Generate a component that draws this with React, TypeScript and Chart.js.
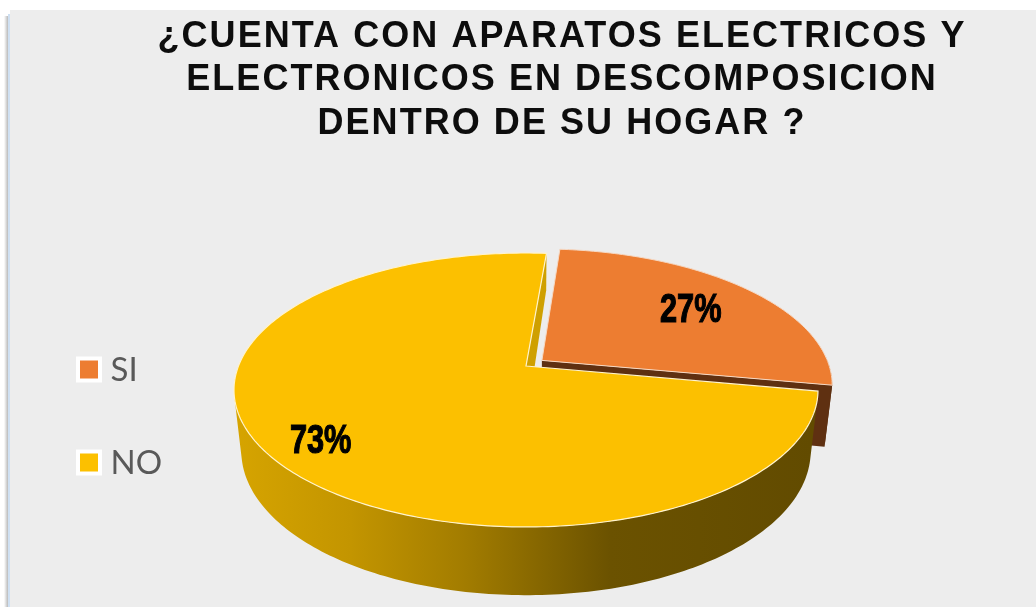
import React, { useEffect, useRef } from "react";
import { Chart, registerables } from "chart.js";

Chart.register(...registerables);

const titleLines = [
  "¿CUENTA CON APARATOS ELECTRICOS Y",
  "ELECTRONICOS EN DESCOMPOSICION",
  "DENTRO DE SU HOGAR ?",
];
const categories = ["SI", "NO"];
const values = [26.6, 73.4];
const sliceColors = ["#ED7D31", "#FCC000"];
const wallColors = ["#5F3011", "#CFA000"];
const sliceExplode = [0.07, 0];
const labelRadius = [0.71, 0.82];

// Projection of the tilted disc (perspective view)
const AX = 526, AY = 366, A = 287.5, B = 132.8, K = 0.175, C = 62, M = 0.025;

function project(u: number, v: number, z: number): [number, number] {
  const w = 1 - K * v + M * z;
  return [AX + (A * u) / w, AY + (B * v + C * z) / w];
}

function rimPoints(start: number, end: number, ox: number, oy: number, z: number) {
  const pts: [number, number][] = [];
  const n = Math.max(2, Math.ceil(((end - start) * 180) / Math.PI));
  for (let i = 0; i <= n; i++) {
    const t = start + ((end - start) * i) / n;
    pts.push(project(Math.cos(t) + ox, Math.sin(t) + oy, z));
  }
  return pts;
}

function tracePoly(ctx: CanvasRenderingContext2D, pts: [number, number][]) {
  ctx.beginPath();
  pts.forEach((p, i) => (i ? ctx.lineTo(p[0], p[1]) : ctx.moveTo(p[0], p[1])));
  ctx.closePath();
}

// Outer wall as a union of consistently wound quads, only where the rim faces the viewer
function traceWall(ctx: CanvasRenderingContext2D, start: number, end: number, ox: number, oy: number) {
  const n = Math.max(2, Math.ceil(((end - start) * 180) / Math.PI));
  ctx.beginPath();
  for (let i = 0; i < n; i++) {
    const t0 = start + ((end - start) * i) / n;
    const t1 = start + ((end - start) * (i + 1)) / n;
    if (Math.sin((t0 + t1) / 2) < -0.02) continue;
    const q = [
      project(Math.cos(t0) + ox, Math.sin(t0) + oy, 0),
      project(Math.cos(t1) + ox, Math.sin(t1) + oy, 0),
      project(Math.cos(t1) + ox, Math.sin(t1) + oy, 1),
      project(Math.cos(t0) + ox, Math.sin(t0) + oy, 1),
    ];
    let area = 0;
    q.forEach((p, j) => {
      const r = q[(j + 1) % 4];
      area += p[0] * r[1] - r[0] * p[1];
    });
    if (area < 0) q.reverse();
    q.forEach((p, j) => (j ? ctx.lineTo(p[0], p[1]) : ctx.moveTo(p[0], p[1])));
    ctx.closePath();
  }
}

const pie3d = {
  id: "pie3d",
  beforeDraw(chart: any) {
    const { ctx, width, height } = chart;
    ctx.save();
    ctx.fillStyle = "#ffffff";
    ctx.fillRect(0, 0, width, height);
    const sh = ctx.createLinearGradient(4, 0, 9, 0);
    sh.addColorStop(0, "#ffffff");
    sh.addColorStop(1, "#a8a8a8");
    ctx.fillStyle = sh;
    ctx.fillRect(4, 16, 5, height - 16);
    ctx.fillStyle = "#cfe0f2";
    ctx.fillRect(8, 14, 2, height - 14);
    ctx.fillStyle = "#EDEDED";
    ctx.fillRect(10, 10, width - 10, height - 10);
    ctx.restore();
  },
  afterLayout(chart: any) {
    const tb = chart.titleBlock;
    tb.left += 44;
    tb.right += 44;
    if (!tb.__spaced) {
      tb.__spaced = true;
      const orig = tb.draw;
      tb.draw = function () {
        this.ctx.letterSpacing = "2.05px";
        orig.call(this);
        this.ctx.letterSpacing = "0px";
      };
    }
    const lg = chart.legend;
    lg.left = 18;
    lg.right = 300;
    lg.top = 294;
    lg.bottom = 600;
  },
  afterDraw(chart: any) {
    // Legend swatches: white frame around the slice colour, aligned with the legend rows
    const lg = chart.legend;
    const ctx: CanvasRenderingContext2D = chart.ctx;
    const pad = lg.options.labels.padding;
    const rowH = lg.legendHitBoxes[0].height;
    ctx.save();
    lg.legendItems.forEach((item: any, i: number) => {
      const cy = lg.top + pad + i * (rowH + pad) + rowH / 2 - 1;
      ctx.fillStyle = "#ffffff";
      ctx.fillRect(76, cy - 13, 26, 26);
      ctx.fillStyle = sliceColors[item.index];
      ctx.fillRect(80, cy - 9, 18, 18);
    });
    ctx.restore();
  },
  beforeDatasetsDraw(chart: any) {
    const ctx: CanvasRenderingContext2D = chart.ctx;
    const arcs = chart.getDatasetMeta(0).data;
    const geo = arcs.map((a: any, i: number) => {
      const mid = (a.startAngle + a.endAngle) / 2;
      return {
        start: a.startAngle,
        end: a.endAngle,
        mid,
        ox: sliceExplode[i] * Math.cos(mid),
        oy: sliceExplode[i] * Math.sin(mid),
      };
    });
    const [si, no] = geo;
    ctx.save();

    // SI: walls, then top
    ctx.fillStyle = wallColors[0];
    traceWall(ctx, si.start, si.end, si.ox, si.oy);
    ctx.fill();
    tracePoly(ctx, [
      project(si.ox, si.oy, 0),
      project(Math.cos(si.end) + si.ox, Math.sin(si.end) + si.oy, 0),
      project(Math.cos(si.end) + si.ox, Math.sin(si.end) + si.oy, 1),
      project(si.ox, si.oy, 1),
    ]);
    ctx.fill();
    tracePoly(ctx, [project(si.ox, si.oy, 0), ...rimPoints(si.start, si.end, si.ox, si.oy, 0)]);
    ctx.fillStyle = sliceColors[0];
    ctx.fill();
    ctx.strokeStyle = "#F6D9C4";
    ctx.lineWidth = 1;
    ctx.stroke();

    // NO: outer wall with a shaded gradient
    const g = ctx.createLinearGradient(235, 0, 812, 0);
    g.addColorStop(0, "#D6A400");
    g.addColorStop(0.2, "#C39500");
    g.addColorStop(0.4, "#A27C00");
    g.addColorStop(0.65, "#6B5200");
    g.addColorStop(1, "#624B00");
    ctx.fillStyle = g;
    traceWall(ctx, no.start, no.end, 0, 0);
    ctx.fill();

    // NO: edge wall in the gap
    ctx.fillStyle = wallColors[1];
    tracePoly(ctx, [
      project(0, 0, 0),
      project(Math.cos(no.end), Math.sin(no.end), 0),
      project(Math.cos(no.end), Math.sin(no.end), 0.68),
      project(0, 0, 0.95),
    ]);
    ctx.fill();

    // NO: top
    tracePoly(ctx, [project(0, 0, 0), ...rimPoints(no.start, no.end, 0, 0, 0)]);
    ctx.fillStyle = sliceColors[1];
    ctx.fill();
    ctx.strokeStyle = "#FFF3CC";
    ctx.lineWidth = 1.2;
    ctx.stroke();

    // Percent labels
    const total = values.reduce((s, v) => s + v, 0);
    geo.forEach((s: any, i: number) => {
      const r = labelRadius[i];
      const [x, y] = project(r * Math.cos(s.mid) + s.ox, r * Math.sin(s.mid) + s.oy, 0);
      const text = Math.round((values[i] / total) * 100) + "%";
      ctx.save();
      ctx.translate(x, y + 3);
      ctx.scale(0.75, 1);
      ctx.font = 'bold 41px "Liberation Sans"';
      ctx.textAlign = "center";
      ctx.textBaseline = "middle";
      ctx.fillStyle = "#000";
      ctx.strokeStyle = "#000";
      ctx.lineWidth = 1.2;
      ctx.strokeText(text, 0, 0);
      ctx.fillText(text, 0, 0);
      ctx.restore();
    });
    ctx.restore();
    return false;
  },
};

export default function App() {
  const ref = useRef<HTMLCanvasElement | null>(null);
  useEffect(() => {
    const chart = new Chart(ref.current as HTMLCanvasElement, {
      type: "pie",
      data: {
        labels: categories,
        datasets: [{ data: values, backgroundColor: sliceColors, borderColor: "#ffffff" }],
      },
      plugins: [pie3d],
      options: {
        animation: false,
        responsive: false,
        rotation: 4.8,
        layout: { padding: 0 },
        plugins: {
          tooltip: { enabled: false },
          title: {
            display: true,
            text: titleLines,
            color: "#0D0D0D",
            font: { family: '"Liberation Sans"', size: 36, weight: "bold", lineHeight: 1.21 },
            padding: { top: 15, bottom: 10 },
          },
          legend: {
            position: "left",
            align: "start",
            labels: {
              color: "#595959",
              font: { family: "Lato", size: 33 },
              boxWidth: 16,
              boxHeight: 16,
              padding: 60,
              generateLabels: () =>
                categories.map((c, i) => ({
                  text: c,
                  fontColor: "#595959",
                  fillStyle: "rgba(0,0,0,0)",
                  strokeStyle: "rgba(0,0,0,0)",
                  lineWidth: 0,
                  index: i,
                  datasetIndex: 0,
                })),
            },
          },
        },
      } as any,
    });
    return () => chart.destroy();
  }, []);
  return (
    <div style={{ position: "fixed", left: 0, top: 0, width: 1036, height: 607 }}>
      <canvas ref={ref} width={1036} height={607} style={{ display: "block" }} />
    </div>
  );
}
